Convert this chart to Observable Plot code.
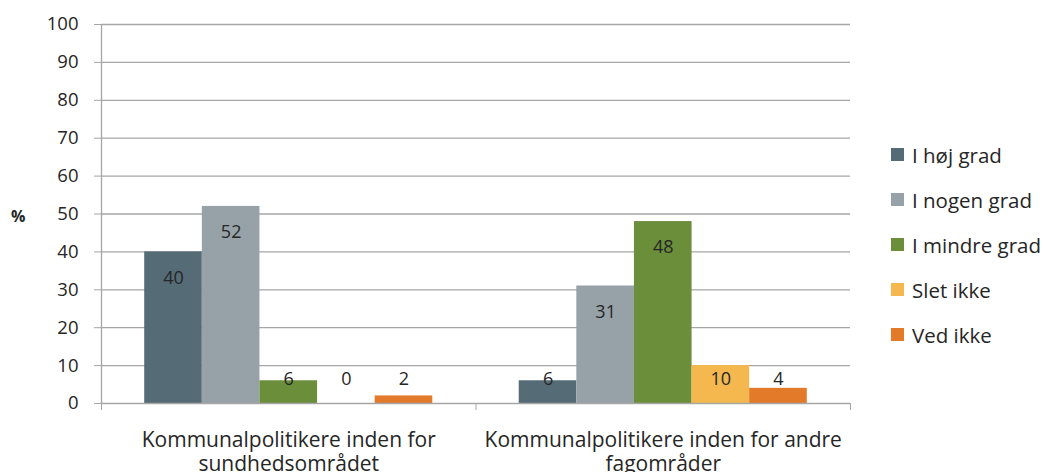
<!DOCTYPE html>
<html>
<head>
<meta charset="utf-8">
<script src="https://cdn.jsdelivr.net/npm/d3@7"></script>
<script src="https://cdn.jsdelivr.net/npm/@observablehq/plot@0.6"></script>
<style>
  html, body { margin: 0; padding: 0; background: #fff; }
  #wrap { position: relative; width: 1043px; height: 472px; font-family: "Open Sans", sans-serif; overflow: hidden; }
  #legend { position: absolute; left: 891px; top: 132px; display: flex; flex-direction: column; gap: 0; }
  .item { display: flex; align-items: center; height: 45px; font-size: 20.5px; color: #262626; white-space: nowrap; }
  .sw { width: 13px; height: 13px; margin-right: 8px; flex: none; }
  #pct { position: absolute; left: 11px; top: 205px; font-size: 16px; font-weight: bold; color: #262626; }
</style>
</head>
<body>
<div id="wrap"><div id="pct">%</div><div id="legend"></div></div>
<script>
const groups = ["Kommunalpolitikere inden for\nsundhedsområdet", "Kommunalpolitikere inden for andre\nfagområder"];
const series = ["I høj grad", "I nogen grad", "I mindre grad", "Slet ikke", "Ved ikke"];
const valuesSundhed = [40, 52, 6, 0, 2];
const valuesAndre = [6, 31, 48, 10, 4];
const colors = ["#556b76", "#96a2a8", "#6a8e3a", "#f4b84f", "#e27a2a"];
const yTicks = [0, 10, 20, 30, 40, 50, 60, 70, 80, 90, 100];

const rows = groups.flatMap((g, gi) => series.map((s, si) => ({
  group: gi, series: s, si, value: (gi === 0 ? valuesSundhed : valuesAndre)[si]
})));
const nb = series.length + 1.5;
const font = "Open Sans, sans-serif";

const chart = Plot.plot({
  width: 1043, height: 472,
  marginLeft: 101, marginRight: 193, marginTop: 24, marginBottom: 69,
  x: {domain: [0, groups.length], axis: null},
  y: {domain: [0, 100], axis: null},
  color: {domain: series, range: colors},
  style: {fontFamily: font, color: "#262626", background: "white"},
  marks: [
    Plot.gridY(yTicks.slice(1), {stroke: "#a6a6a6", strokeOpacity: 1, strokeWidth: 1.3}),
    Plot.axisY(yTicks, {tickSize: 7, tickPadding: 16, fontSize: 18.5, stroke: "#a6a6a6", strokeOpacity: 1, fill: "#262626", label: null}),
    Plot.rectY(rows, {
      x1: d => d.group + (0.75 + d.si) / nb,
      x2: d => d.group + (1.75 + d.si) / nb,
      y1: 0, y2: "value", fill: "series"
    }),
    Plot.ruleY([0], {stroke: "#a6a6a6", strokeWidth: 1.3}),
    Plot.ruleX([0], {y1: 0, y2: 100, stroke: "#a6a6a6", strokeWidth: 1.3}),
    Plot.axisX(d3.range(groups.length + 1), {tickSize: 7, tickFormat: () => "", stroke: "#a6a6a6", strokeOpacity: 1, label: null}),
    Plot.axisX(groups.map((g, i) => i + 0.5), {
      tickSize: 0, tickPadding: 26, fontSize: 21, fill: "#262626", label: null,
      tickFormat: d => groups[Math.floor(d)], lineHeight: 1.15
    }),
    Plot.text(rows, {
      x: d => d.group + (1.25 + d.si) / nb,
      y: d => Math.max(d.value, 13.3), dy: 26,
      text: d => String(d.value), fontSize: 18, fill: "#262626"
    })
  ]
});
const wrap = document.getElementById("wrap");
wrap.insertBefore(chart, wrap.firstChild);
chart.style.position = "absolute"; chart.style.left = "0"; chart.style.top = "0";

const legend = document.getElementById("legend");
series.forEach((s, i) => {
  const it = document.createElement("div"); it.className = "item";
  const sw = document.createElement("div"); sw.className = "sw"; sw.style.background = colors[i];
  const t = document.createElement("span"); t.textContent = s;
  it.appendChild(sw); it.appendChild(t); legend.appendChild(it);
});
</script>
</body>
</html>
